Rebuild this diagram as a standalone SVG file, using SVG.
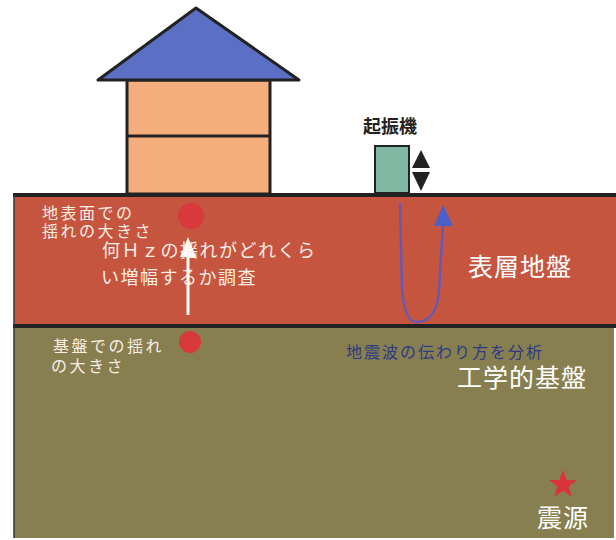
<svg xmlns="http://www.w3.org/2000/svg" width="616" height="540" viewBox="0 0 616 540">
  <style>
    text { font-family: "Noto Sans CJK JP", "Noto Sans", sans-serif; }
    .lbl { font-size: 16px; letter-spacing: 2.5px; fill: #fbeee4; }
    .note { font-size: 18px; letter-spacing: 1.5px; fill: #fbeee4; }
    .big { font-size: 25px; fill: #ffffff; }
    .edge { stroke: #222222; stroke-width: 4; }
  </style>

  <rect width="616" height="540" fill="#ffffff"/>

  <!-- ground layers -->
  <g id="surface-layer">
    <rect x="14" y="195" width="602" height="131" fill="#c6553f"/>
  </g>
  <g id="base-layer">
    <rect x="14" y="326" width="600" height="212" fill="#877f50"/>
  </g>
  <line x1="13" y1="195" x2="616" y2="195" class="edge"/>
  <line x1="13" y1="326" x2="616" y2="326" class="edge"/>
  <line x1="14" y1="195" x2="14" y2="538" stroke="#333" stroke-width="1.5"/>

  <!-- house -->
  <g id="house">
    <rect x="127" y="80" width="143" height="114" fill="#f4ae7c" stroke="#222" stroke-width="3"/>
    <line x1="127" y1="136" x2="270" y2="136" stroke="#222" stroke-width="3"/>
    <polygon points="196,8 98,80 299,80" fill="#5b6fc4" stroke="#222" stroke-width="3" stroke-linejoin="round"/>
  </g>

  <!-- vibrator -->
  <g id="vibrator">
    <rect x="375" y="146" width="34" height="47" fill="#7fb7a2" stroke="#222" stroke-width="2"/>
    <polygon points="421,150 412,168 430,168" fill="#222"/>
    <polygon points="421,191 412,172 430,172" fill="#222"/>
    <text x="390" y="133" font-size="18" font-weight="bold" fill="#222" text-anchor="middle">起振機</text>
  </g>

  <!-- connectors -->
  <g id="connectors">
    <path d="M400,203 L402,290 Q405,323 417,322 Q437,321 439,290 L443,224" fill="none" stroke="#6a58b0" stroke-width="2.5"/>
    <polygon points="443,205 434,226 453,226" fill="#4a5fc8"/>
    <line x1="188" y1="315" x2="188" y2="254" stroke="#ffffff" stroke-width="3"/>
    <polygon points="188,237 180,257 196,257" fill="#ffffff"/>
  </g>

  <!-- measurement points -->
  <g id="point-surface">
    <circle cx="191" cy="216" r="13" fill="#d8393a"/>
    <text class="lbl" x="42" y="219">地表面での</text>
    <text class="lbl" x="42" y="237">揺れの大きさ</text>
  </g>
  <g id="point-base">
    <circle cx="190" cy="342" r="11" fill="#d8393a"/>
    <text class="lbl" x="53" y="352">基盤での揺れ</text>
    <text class="lbl" x="51" y="372">の大きさ</text>
  </g>

  <g id="note-amplify">
    <text class="note" x="102" y="257">何Ｈｚの揺れがどれくら</text>
    <text class="note" x="101" y="284">い増幅するか調査</text>
  </g>

  <g id="label-surface">
    <text class="big" x="468" y="276" style="letter-spacing:1px">表層地盤</text>
  </g>
  <g id="label-wave">
    <text x="346" y="358" font-size="16" letter-spacing="2" fill="#2c3a84">地震波の伝わり方を分析</text>
  </g>
  <g id="label-base">
    <text class="big" x="457" y="387" style="letter-spacing:1px">工学的基盤</text>
  </g>

  <!-- hypocenter -->
  <g id="hypocenter">
    <polygon points="563,470 566.8,480 577,480 568.8,486.5 571.8,497 563,490.8 554.2,497 557.2,486.5 549,480 559.2,480" fill="#d8343a"/>
    <text class="big" x="537" y="527" style="letter-spacing:1px">震源</text>
  </g>
</svg>
